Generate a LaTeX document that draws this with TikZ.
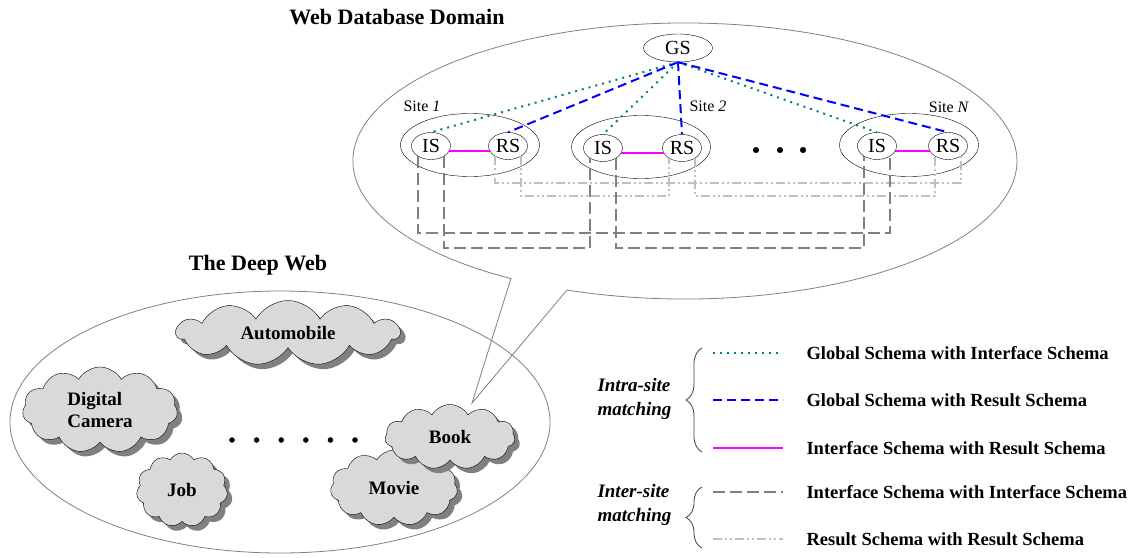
\documentclass[tikz,border=0pt]{standalone}
\usepackage{fontspec}
\setmainfont{Liberation Serif}
\usetikzlibrary{shapes.geometric,shapes.symbols,shadows,decorations.pathreplacing}

\definecolor{sgray}{RGB}{128,128,128}
\definecolor{lgray}{RGB}{192,192,192}
\definecolor{cgray}{RGB}{217,217,217}
\definecolor{pinkline}{RGB}{255,0,255}
\definecolor{tealline}{RGB}{0,128,128}
\definecolor{blueline}{RGB}{0,0,255}

\tikzset{
  frame/.style={sgray, line width=0.8pt},
  schema/.style={draw, ellipse, inner sep=0pt, minimum width=39pt, minimum height=27pt,
    font=\fontsize{20}{20}\selectfont},
  site/.style={draw, ellipse, minimum width=139pt, minimum height=63pt},
  sitelabel/.style={font=\fontsize{16}{16}\selectfont},
  webcloud/.style={cloud, cloud puffs=11, cloud puff arc=120, cloud ignores aspect,
    draw, fill=cgray, align=left, font=\bfseries\fontsize{19}{22}\selectfont,
    drop shadow={shadow xshift=5pt, shadow yshift=-5pt, fill=sgray, opacity=1}},
  gsis/.style={tealline, line width=2pt, dash pattern=on 2pt off 5pt},
  gsrs/.style={blueline, line width=2pt, dash pattern=on 9pt off 5pt},
  isrs/.style={pinkline, line width=2pt},
  isis/.style={sgray, line width=2pt, dash pattern=on 12pt off 5pt},
  rsrs/.style={lgray, line width=2pt, dash pattern=on 9pt off 3pt on 2pt off 3pt on 2pt off 3pt},
  title/.style={font=\bfseries\fontsize{22}{24}\selectfont},
  legend/.style={anchor=west, font=\bfseries\fontsize{18.5}{20}\selectfont},
  group/.style={anchor=west, align=left, font=\bfseries\itshape\fontsize{19}{24}\selectfont},
  groupbrace/.style={decorate, decoration={brace, amplitude=16pt}, darkgray, line width=0.8pt},
}

\begin{document}
\begin{tikzpicture}[x=1pt, y=1pt]
    \useasboundingbox (0,0) rectangle (1138,-557);

    % the two domains
    \draw[frame] (567,-290) arc[start angle=249.2, end angle=598.4, x radius=332, y radius=138]
        -- (472,-403) -- cycle;
    \draw[frame] (280,-422) ellipse[x radius=270, y radius=131];
    \node[title] (wdd) at (397,-17) {Web Database Domain};
    \node[title] (deep) at (258,-265) {The Deep Web};

    % sites
    \node[site] (site1) at (470,-145) {};
    \node[site] (site2) at (641,-147) {};
    \node[site] (siteN) at (909,-145) {};
    \node[sitelabel] (lab1) at (422,-106) {Site \textit{1}};
    \node[sitelabel] (lab2) at (708,-106) {Site \textit{2}};
    \node[sitelabel] (labN) at (949,-107) {Site \textit{N}};

    \node[schema, minimum width=69pt, minimum height=28pt] (GS) at (678,-48) {GS};
    \node[schema] (IS1) at (431,-146) {IS};
    \node[schema] (RS1) at (508,-146) {RS};
    \node[schema] (IS2) at (603,-148) {IS};
    \node[schema] (RS2) at (682,-148) {RS};
    \node[schema] (ISN) at (877,-146) {IS};
    \node[schema] (RSN) at (948,-146) {RS};

    \filldraw[black] (756,-150) circle (2.8pt);
    \filldraw[black] (780,-150) circle (2.8pt);
    \filldraw[black] (803,-150) circle (2.8pt);

    % intra-site matching
    \draw[gsis] (GS.south) -- (IS1.north);
    \draw[gsrs] (GS.south) -- (RS1.north);
    \draw[gsis] (GS.south) -- (IS2.north);
    \draw[gsrs] (GS.south) -- (RS2.north);
    \draw[gsis] (GS.south) -- (ISN.north);
    \draw[gsrs] (GS.south) -- (RSN.north);
    \draw[isrs] (IS1.-15) -- (RS1.195);
    \draw[isrs] (IS2.-15) -- (RS2.195);
    \draw[isrs] (ISN.-15) -- (RSN.195);

    % inter-site matching
    \coordinate (rsTop) at (0,-183);
    \coordinate (rsLow) at (0,-196);
    \coordinate (isTop) at (0,-233);
    \coordinate (isLow) at (0,-248);
    \draw[rsrs] (RS1.218) -- (RS1.218 |- rsTop) -- (RSN.322 |- rsTop) -- (RSN.322);
    \draw[rsrs] (RS1.322) -- (RS1.322 |- rsLow) -- (RS2.218 |- rsLow) -- (RS2.218);
    \draw[rsrs] (RS2.322) -- (RS2.322 |- rsLow) -- (RSN.218 |- rsLow) -- (RSN.218);
    \draw[isis] (IS1.218) -- (IS1.218 |- isTop) -- (ISN.322 |- isTop) -- (ISN.322);
    \draw[isis] (IS1.322) -- (IS1.322 |- isLow) -- (IS2.218 |- isLow) -- (IS2.218);
    \draw[isis] (IS2.322) -- (IS2.322 |- isLow) -- (ISN.218 |- isLow) -- (ISN.218);

    % the deep web
    \node[webcloud, minimum width=223pt, minimum height=65pt] (auto) at (288,-333) {Automobile};
    \node[webcloud, minimum width=155pt, minimum height=86pt] (camera) at (100,-410) {Digital\\Camera};
    \node[webcloud, minimum width=91pt, minimum height=74pt] (job) at (182,-490) {Job};
    \node[webcloud, minimum width=127pt, minimum height=76pt] (movie) at (394,-488) {Movie};
    \node[webcloud, minimum width=130pt, minimum height=65pt] (book) at (450,-437) {Book};
    \foreach \i in {0,...,5}
        \filldraw[black] (232+24.6*\i,-440) circle (2.5pt);

    % legend
    \node[legend] (lgsis) at (803,-353) {Global Schema with Interface Schema};
    \node[legend] (lgsrs) at (803,-400) {Global Schema with Result Schema};
    \node[legend] (lisrs) at (803,-448) {Interface Schema with Result Schema};
    \node[legend] (lisis) at (803,-492) {Interface Schema with Interface Schema};
    \node[legend] (lrsrs) at (803,-539) {Result Schema with Result Schema};
    \draw[gsis] ([xshift=-90pt]lgsis.west) -- ([xshift=-20pt]lgsis.west);
    \draw[gsrs] ([xshift=-90pt]lgsrs.west) -- ([xshift=-20pt]lgsrs.west);
    \draw[isrs] ([xshift=-90pt]lisrs.west) -- ([xshift=-20pt]lisrs.west);
    \draw[isis] ([xshift=-90pt]lisis.west) -- ([xshift=-20pt]lisis.west);
    \draw[rsrs] ([xshift=-90pt]lrsrs.west) -- ([xshift=-20pt]lrsrs.west);
    \draw[groupbrace] (702,-452) -- (702,-348);
    \draw[groupbrace] (702,-548) -- (702,-487);
    \node[group] (intra) at (594,-399) {Intra-site\\matching};
    \node[group] (inter) at (594,-505) {Inter-site\\matching};
\end{tikzpicture}
\end{document}
